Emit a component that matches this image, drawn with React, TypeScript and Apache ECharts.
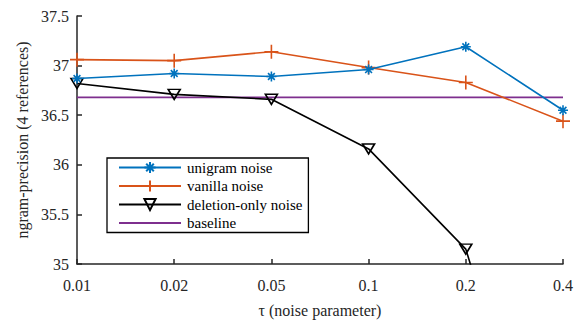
import React, { useEffect, useRef } from "react";
import * as echarts from "echarts";

const categories = ["0.01", "0.02", "0.05", "0.1", "0.2", "0.4"];
const unigramNoise = [36.87, 36.92, 36.89, 36.96, 37.19, 36.55];
const vanillaNoise = [37.06, 37.05, 37.14, 36.98, 36.83, 36.44];
const deletionOnlyNoise = [36.82, 36.71, 36.66, 36.16, 35.15, 31.95];
const baseline = [36.68, 36.68, 36.68, 36.68, 36.68, 36.68];
const yTicks = { min: 35, max: 37.5, interval: 0.5 };

const BLUE = "#0072BD";
const ORANGE = "#D95319";
const PURPLE = "#7E2F8E";
const AXIS = "#262626";
const FONT = "'Liberation Serif', 'DejaVu Serif', serif";

const ASTERISK = "path://M5,0L5,10M0,5L10,5M1.6,1.6L8.4,8.4M8.4,1.6L1.6,8.4";
const PLUS = "path://M5,0L5,10M0,5L10,5";
const TRIANGLE = "path://M0,0L10,0L5,9Z";

export default function App() {
  const ref = useRef<HTMLDivElement>(null);
  useEffect(() => {
    const chart = echarts.init(ref.current!, null, { renderer: "svg" });
    chart.setOption({
      animation: false,
      backgroundColor: "#fff",
      textStyle: { fontFamily: FONT },
      grid: { left: 77, right: 19, top: 16, bottom: 53, containLabel: false },
      legend: {
        orient: "vertical",
        left: 107,
        top: 158,
        width: 210,
        itemWidth: 62,
        itemHeight: 14,
        itemGap: 3.5,
        padding: [2, 6, 2, 11],
        backgroundColor: "#fff",
        borderColor: "#000",
        borderWidth: 1.3,
        borderRadius: 0,
        textStyle: { fontFamily: FONT, fontSize: 15, color: "#000", padding: [0, 0, 0, 1] },
        data: [
          "unigram noise",
          "vanilla noise",
          "deletion-only noise",
          { name: "baseline", itemStyle: { color: "transparent", borderWidth: 0, opacity: 0 } },
        ],
      },
      xAxis: {
        type: "category",
        data: categories,
        boundaryGap: false,
        name: "\u03c4 (noise parameter)",
        nameLocation: "middle",
        nameGap: 38,
        nameTextStyle: { fontFamily: FONT, fontSize: 16, color: AXIS },
        axisLine: { lineStyle: { color: AXIS, width: 1.5 } },
        axisTick: { inside: true, length: 5, alignWithLabel: true, lineStyle: { color: AXIS, width: 1.5 } },
        axisLabel: { fontFamily: FONT, fontSize: 16, color: AXIS, margin: 13 },
        splitLine: { show: false },
      },
      yAxis: {
        type: "value",
        min: yTicks.min,
        max: yTicks.max,
        interval: yTicks.interval,
        name: "ngram-precision (4 references)",
        nameLocation: "middle",
        nameGap: 45,
        nameTextStyle: { fontFamily: FONT, fontSize: 16, color: AXIS },
        axisLine: { show: true, lineStyle: { color: AXIS, width: 1.5 } },
        axisTick: { show: true, inside: true, length: 5, lineStyle: { color: AXIS, width: 1.5 } },
        axisLabel: {
          fontFamily: FONT,
          fontSize: 16,
          color: AXIS,
          margin: 8,
          formatter: (v: number) => String(Number(v.toFixed(1))),
        },
        splitLine: { show: false },
      },
      series: [
        {
          name: "unigram noise",
          type: "line",
          data: unigramNoise,
          symbol: ASTERISK,
          symbolSize: 10,
          showAllSymbol: true,
          color: BLUE,
          lineStyle: { color: BLUE, width: 1.6 },
          itemStyle: { color: BLUE, borderColor: BLUE, borderWidth: 1.6 },
          z: 4,
        },
        {
          name: "vanilla noise",
          type: "line",
          data: vanillaNoise,
          symbol: PLUS,
          symbolSize: 14,
          showAllSymbol: true,
          color: ORANGE,
          lineStyle: { color: ORANGE, width: 1.6 },
          itemStyle: { color: ORANGE, borderColor: ORANGE, borderWidth: 1.6 },
          z: 3,
        },
        {
          name: "deletion-only noise",
          type: "line",
          data: deletionOnlyNoise,
          symbol: TRIANGLE,
          symbolSize: [12, 10],
          showAllSymbol: true,
          clip: true,
          color: "#000",
          lineStyle: { color: "#000", width: 1.6 },
          itemStyle: { color: "transparent", borderColor: "#000", borderWidth: 1.6 },
          z: 2,
        },
        {
          name: "baseline",
          type: "line",
          data: baseline,
          symbol: "none",
          color: PURPLE,
          lineStyle: { color: PURPLE, width: 1.6 },
          itemStyle: { color: PURPLE },
          z: 1,
        },
      ],
    });
    return () => chart.dispose();
  }, []);
  return (
    <div
      ref={ref}
      style={{ position: "fixed", left: 0, top: 0, width: 582, height: 323 }}
    />
  );
}
